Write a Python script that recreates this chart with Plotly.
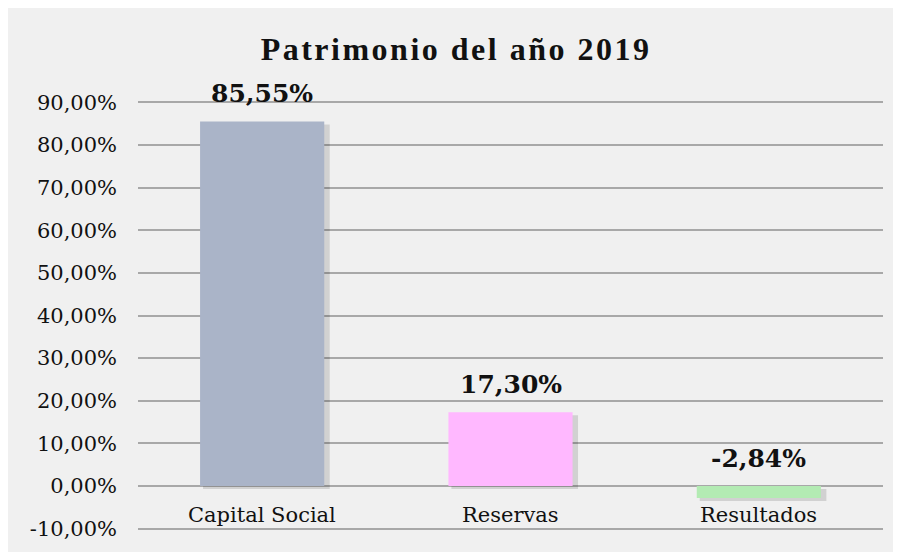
import plotly.graph_objects as go

categorias = ["Capital Social", "Reservas", "Resultados"]
valores = [85.55, 17.30, -2.84]
colores = ["#aab4c8", "#ffb8ff", "#b3ebb3"]

tick_vals = [-10, 0, 10, 20, 30, 40, 50, 60, 70, 80, 90]
tick_text = ["-10,00%", "0,00%", "10,00%", "20,00%", "30,00%", "40,00%",
             "50,00%", "60,00%", "70,00%", "80,00%", "90,00%"]

FONDO = "#f0f0f0"
SERIF = "DejaVu Serif"
REJILLA = "#a8a8a8"

# desplazamiento de la sombra de las barras (en unidades de los ejes)
SOMBRA_X = 0.012
SOMBRA_Y = 0.7
ANCHO = 0.5

fig = go.Figure()
fig.add_trace(
    go.Bar(
        x=categorias,
        y=valores,
        base=[-SOMBRA_Y] * len(valores),
        width=ANCHO + 0.01,
        offset=-ANCHO / 2 + SOMBRA_X,
        marker=dict(color="rgba(0,0,0,0.13)", line=dict(width=0)),
        showlegend=False,
        hoverinfo="skip",
    )
)
fig.add_trace(
    go.Bar(
        x=categorias,
        y=valores,
        width=ANCHO,
        offset=-ANCHO / 2,
        marker=dict(color=colores, line=dict(width=0)),
        showlegend=False,
        hoverinfo="skip",
    )
)

# etiquetas de datos, encima de la barra (o de cero si es negativa)
for cat, val in zip(categorias, valores):
    fig.add_annotation(
        x=cat, y=max(val, 0), xref="x", yref="y",
        text=f"{val:.2f}".replace(".", ",") + "%",
        showarrow=False, yanchor="bottom", yshift=11,
        font=dict(family=SERIF, size=25, color="#111", weight="bold"),
    )

# nombres de categoria dentro del area, sobre la linea de -10%
for cat in categorias:
    fig.add_annotation(
        x=cat, y=tick_vals[0], xref="x", yref="y",
        text=cat, showarrow=False, yanchor="bottom", yshift=0,
        font=dict(family=SERIF, size=21, color="#111"),
    )

fig.update_layout(
    width=889, height=544, autosize=False,
    margin=dict(l=130, r=14, t=93, b=22),
    paper_bgcolor=FONDO,
    plot_bgcolor=FONDO,
    barmode="overlay",
    title=dict(
        text='<span style="letter-spacing:2.5px">Patrimonio del año 2019</span>',
        x=0.504, xanchor="center", y=0.925, yanchor="middle",
        font=dict(family="Liberation Serif", size=32, color="#111", weight="bold"),
    ),
    xaxis=dict(showticklabels=False, showgrid=False, zeroline=False, showline=False),
    yaxis=dict(
        range=[-10.35, 90.35],
        tickvals=tick_vals, ticktext=tick_text,
        showgrid=True, gridcolor=REJILLA, gridwidth=1.5,
        zeroline=True, zerolinecolor=REJILLA, zerolinewidth=1.5,
        showline=False, ticks="", ticklabelstandoff=20,
        tickfont=dict(family=SERIF, size=21, color="#111"),
    ),
)

fig.write_html("out.html")
